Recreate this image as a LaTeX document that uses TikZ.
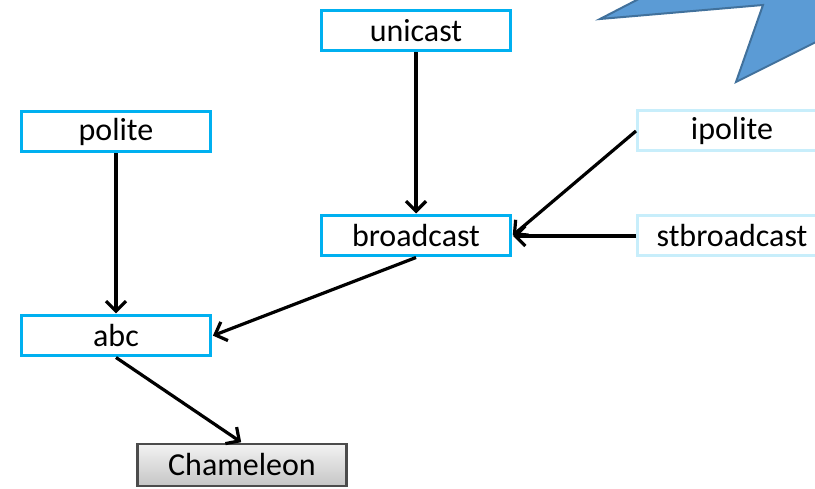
\documentclass[tikz,border=0pt]{standalone}
\usepackage{fontspec}
\setmainfont{Carlito}
\usetikzlibrary{arrows.meta}
\definecolor{boxblue}{HTML}{00B0F0}
\definecolor{boxpale}{HTML}{C8EEFB}
\definecolor{starfill}{HTML}{5B9BD5}
\definecolor{starline}{HTML}{41719C}
\tikzset{
  mod/.style={draw=boxblue, line width=3pt, fill=white, minimum width=189pt, minimum height=40pt, inner sep=0pt, font=\fontsize{32}{34}\selectfont},
  extmod/.style={mod, draw=boxpale},
  target/.style={draw=black!70, line width=2.5pt, top color=gray!10, bottom color=gray!45, minimum width=209pt, minimum height=42pt, inner sep=0pt, font=\fontsize{32}{34}\selectfont},
  dep/.style={draw=black, line width=3.2pt, -{Straight Barb[length=10pt,width=20pt,line width=3.2pt]}, shorten >=1pt}
}
\begin{document}
\begin{tikzpicture}[x=1pt,y=-1pt]
\useasboundingbox (0,0) rectangle (815,489);
\clip (0,0) rectangle (815,489);
% burst shape in the upper right corner
\draw[fill=starfill, draw=starline, line width=2pt, line join=miter]
  (660,-12) -- (600,19) -- (763,5) -- (736,82) -- (830,35) -- (830,-12) -- cycle;
% module boxes
\node[mod] (unicast) at (416,31) {unicast};
\node[mod] (polite) at (116,132) {polite};
\node[mod] (broadcast) at (416,236) {broadcast};
\node[mod] (abc) at (116,336) {abc};
\node[extmod] (ipolite) at (732,131) {ipolite};
\node[extmod] (stbroadcast) at (732,236) {stbroadcast};
\node[target] (chameleon) at (242,465) {Chameleon};
% dependencies
\draw[dep] (unicast) -- (broadcast);
\draw[dep] (polite) -- (abc);
\draw[dep] (ipolite.west) -- (broadcast.east);
\draw[dep] (stbroadcast.west) -- (broadcast.east);
\draw[dep] (broadcast.south) -- (abc.east);
\draw[dep] (abc.south) -- (chameleon.north);
\end{tikzpicture}
\end{document}
